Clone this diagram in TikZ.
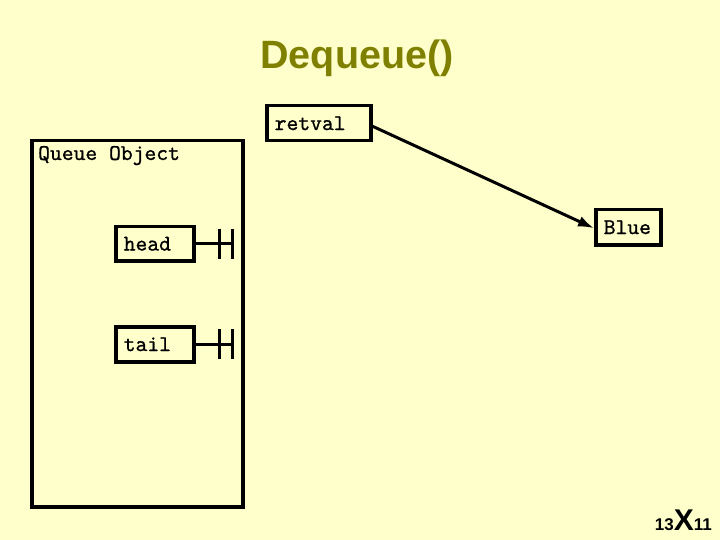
\documentclass[tikz,border=0pt]{standalone}
\usepackage{fontspec}
\setmainfont{Liberation Sans}
\newfontfamily\monof{lmmono10-regular.otf}[FakeBold=0.9]
\usetikzlibrary{arrows.meta}
\definecolor{bgyellow}{HTML}{FFFFCC}
\definecolor{titleolive}{HTML}{808000}
\newcommand{\monotext}{\monof\fontsize{22.5}{23}\selectfont}
\begin{document}
\begin{tikzpicture}[x=1pt,y=-1pt,
  box/.style={draw=black, line width=3.5pt, rectangle, anchor=north west,
    inner xsep=8pt, inner ysep=0pt, align=left, font=\monotext},
  wire/.style={draw=black, line width=3pt},
  ptr/.style={draw=black, line width=3pt, -{Latex[length=16pt,width=11pt]}}]
\fill[bgyellow] (0,0) rectangle (720,540);
\useasboundingbox (0,0) rectangle (720,540);
% title
\node[font=\bfseries\fontsize{39.5}{40}\selectfont, text=titleolive] (title) at (357,58) {Dequeue()};
% queue object frame
\node[draw=black, line width=3.5pt, rectangle, anchor=north west, inner sep=0pt,
  minimum width=211pt, minimum height=366pt] (queue) at (30,139) {};
\node[anchor=base west, inner sep=0pt, font=\monotext] (qlabel) at (38,160) {Queue Object};
% boxes
\node[box, text width=88pt, minimum height=35pt] (retval) at (265,104) {retval};
\node[box, text width=62pt, minimum height=34pt] (head) at (114,225) {head};
\node[box, text width=62pt, minimum height=35pt] (tail) at (114,325) {tail};
\node[box, text width=49pt, minimum height=35pt] (blue) at (594,208) {Blue};
% null pointers
\foreach \n in {head,tail}{
  \draw[wire] (\n.east) -- ++(37,0);
  \draw[wire] (\n.east) ++(24,-15) -- ++(0,30);
  \draw[wire] (\n.east) ++(37,-15) -- ++(0,30);
}
% pointer
\draw[ptr] ([yshift=-3pt]retval.east) -- ([yshift=-1pt]blue.west);
% slide number
\node[anchor=base east, inner sep=0pt, font=\bfseries] (dims) at (712,530)
  {\fontsize{17}{17}\selectfont 13\fontsize{30}{30}\selectfont X\fontsize{17}{17}\selectfont 11};
\end{tikzpicture}
\end{document}
